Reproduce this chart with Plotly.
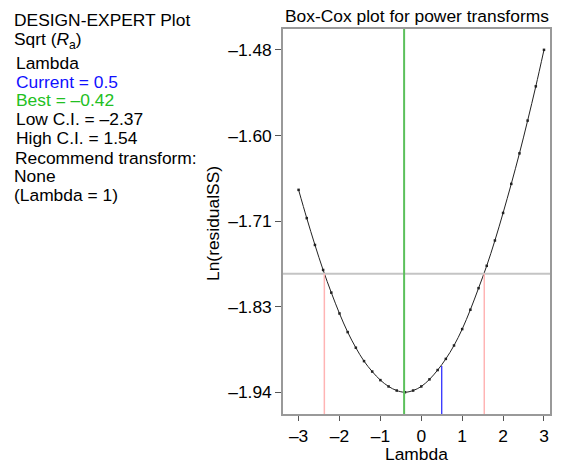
import plotly.graph_objects as go

# ---- data ----
lambdas = [-3.0, -2.8, -2.6, -2.4, -2.2, -2.0, -1.8, -1.6, -1.4, -1.2, -1.0,
           -0.8, -0.6, -0.4, -0.2, 0.0, 0.2, 0.4, 0.6, 0.8, 1.0,
           1.2, 1.4, 1.6, 1.8, 2.0, 2.2, 2.4, 2.6, 2.8, 3.0]
ln_resid_ss = [-1.668, -1.706, -1.742, -1.7756, -1.806, -1.834, -1.859, -1.880,
               -1.898, -1.912, -1.9235, -1.932, -1.9375, -1.9398, -1.9375, -1.932,
               -1.9225, -1.910, -1.895, -1.877, -1.855, -1.829, -1.800, -1.770,
               -1.736, -1.699, -1.660, -1.619, -1.575, -1.529, -1.480]

current_lambda = 0.5
current_value = -1.9046
best_lambda = -0.42
low_ci = -2.37
high_ci = 1.54
ci_level = -1.7806

x_tickvals = [-3, -2, -1, 0, 1, 2, 3]
x_ticktext = ["\u20133", "\u20132", "\u20131", "0", "1", "2", "3"]
y_tickvals = [-1.48, -1.595, -1.71, -1.825, -1.94]
y_ticktext = ["\u20131.48", "\u20131.60", "\u20131.71", "\u20131.83", "\u20131.94"]

x_range = [-3.381, 3.147]
y_range = [-1.969, -1.452]

info_lines = [
    ("DESIGN-EXPERT Plot", "black"),
    ("Sqrt (<i>R</i><sub>a</sub>)", "black"),
    ("Lambda", "black"),
    ("Current = 0.5", "#1010ff"),
    ("Best = \u20130.42", "#22c022"),
    ("Low C.I. = \u20132.37", "black"),
    ("High C.I. = 1.54", "black"),
    ("Recommend transform:", "black"),
    ("None", "black"),
    ("(Lambda = 1)", "black"),
]

# ---- layout geometry (pixels) ----
W, H = 561, 463
L, R, T, B = 283, 11, 29, 49
PW, PH = W - L - R, H - T - B

def px_x(x):
    return (x - L) / PW

def px_y(y):
    return (H - B - y) / PH

FONT = "Liberation Sans, Arial, sans-serif"
FS = 17.4

fig = go.Figure()

# grey horizontal CI line
fig.add_shape(type="line", xref="paper", yref="y", x0=0, x1=1, y0=ci_level, y1=ci_level,
              line=dict(color="#c4c4c4", width=2))
# pink CI verticals
for lam in (low_ci, high_ci):
    fig.add_shape(type="line", xref="x", yref="y", x0=lam, x1=lam, y0=y_range[0], y1=ci_level,
                  line=dict(color="#ffb4b4", width=1.5))
# blue current line
fig.add_shape(type="line", xref="x", yref="y", x0=current_lambda, x1=current_lambda,
              y0=y_range[0], y1=current_value, line=dict(color="#2020ff", width=1.2))
# green best line
fig.add_shape(type="line", xref="x", yref="paper", x0=best_lambda, x1=best_lambda, y0=0, y1=1,
              line=dict(color="#5cc05c", width=2))

fig.add_trace(go.Scatter(
    x=lambdas, y=ln_resid_ss, mode="lines+markers",
    line=dict(color="#222222", width=1, shape="spline"),
    marker=dict(color="#222222", size=2.5, symbol="square"),
    hoverinfo="skip", showlegend=False,
))

axis_common = dict(showline=True, linecolor="#999999", linewidth=1.5, mirror=True,
                   showgrid=False, zeroline=False, ticks="outside", tickcolor="#555555",
                   tickfont=dict(family=FONT, size=FS, color="black"))

fig.update_xaxes(range=x_range, tickvals=x_tickvals, ticktext=x_ticktext, ticklen=5, **axis_common)
fig.update_yaxes(range=y_range, tickvals=y_tickvals, ticktext=y_ticktext, ticklen=6, **axis_common)

annotations = []
# title
annotations.append(dict(text="Box-Cox plot for power transforms", xref="paper", yref="paper",
                        x=0.5, y=px_y(16), xanchor="center", yanchor="middle", showarrow=False,
                        font=dict(family=FONT, size=FS, color="black")))
# axis titles
annotations.append(dict(text="Lambda", xref="paper", yref="paper", x=0.5, y=px_y(453.5),
                        xanchor="center", yanchor="middle", showarrow=False, borderpad=0,
                        font=dict(family=FONT, size=FS, color="black")))
annotations.append(dict(text="Ln(residualSS)", xref="paper", yref="paper", x=px_x(213),
                        y=px_y(224), xanchor="center", yanchor="middle", textangle=-90,
                        showarrow=False, font=dict(family=FONT, size=FS, color="black")))

line_centers = [20, 40, 63, 81.5, 100, 119, 137.5, 158, 176.5, 195]
line_x = [13, 13, 15, 15, 15, 15, 15, 14, 13, 13]
for (txt, col), yc, xl in zip(info_lines, line_centers, line_x):
    annotations.append(dict(text=txt, xref="paper", yref="paper", x=px_x(xl), y=px_y(yc),
                            xanchor="left", yanchor="middle", showarrow=False, borderpad=0,
                            font=dict(family=FONT, size=FS, color=col)))

fig.update_layout(
    width=W, height=H, margin=dict(l=L, r=R, t=T, b=B, autoexpand=False),
    paper_bgcolor="white", plot_bgcolor="white",
    annotations=annotations,
)

fig.write_html("out.html")
